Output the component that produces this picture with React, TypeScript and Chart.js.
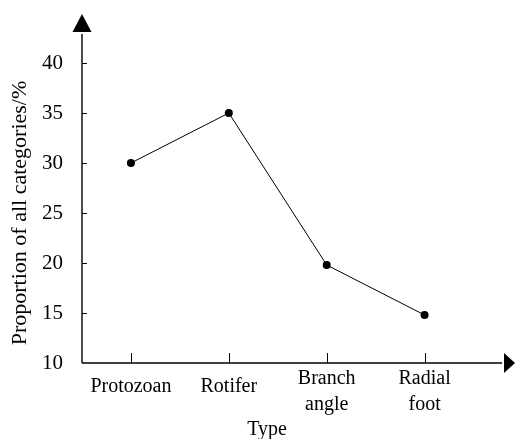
import React, { useEffect, useRef } from "react";
import { Chart, registerables } from "chart.js";

Chart.register(...registerables);

const categories: string[][] = [["Protozoan"], ["Rotifer"], ["Branch", "angle"], ["Radial", "foot"]];
const proportions: number[] = [30, 35, 19.8, 14.8];
const yMin = 10;
const yMax = 40;
const yStep = 5;
const xMin = -0.5;
const xMax = 3.28;
const xTitle = "Type";
const yTitle = "Proportion of all categories/%";

const FONT = "'Liberation Serif', 'Times New Roman', serif";

const arrowAxes = {
  id: "arrowAxes",
  afterDraw(chart: any) {
    const { ctx, chartArea, scales } = chart;
    const xs = scales.x;
    const ys = scales.y;
    const x0 = chartArea.left;
    const y0 = chartArea.bottom;
    const yTop = chartArea.top - 31;
    const yTip = chartArea.top - 49;
    const xEnd = chart.width - 11;
    const xTip = chart.width;
    ctx.save();
    ctx.strokeStyle = "#000";
    ctx.fillStyle = "#000";
    ctx.lineWidth = 1.4;
    // y axis
    ctx.beginPath();
    ctx.moveTo(x0, y0);
    ctx.lineTo(x0, yTop + 2);
    ctx.stroke();
    ctx.beginPath();
    ctx.moveTo(x0, yTip);
    ctx.lineTo(x0 - 9.5, yTop);
    ctx.lineTo(x0 + 9.5, yTop);
    ctx.closePath();
    ctx.fill();
    // x axis
    ctx.beginPath();
    ctx.moveTo(x0, y0);
    ctx.lineTo(xEnd - 2, y0);
    ctx.stroke();
    ctx.beginPath();
    ctx.moveTo(xTip, y0);
    ctx.lineTo(xEnd, y0 - 10);
    ctx.lineTo(xEnd, y0 + 10);
    ctx.closePath();
    ctx.fill();
    // inward ticks
    ctx.lineWidth = 1;
    ys.ticks.forEach((t: any) => {
      if (t.value === yMin) return;
      const py = Math.round(ys.getPixelForValue(t.value)) + 0.5;
      ctx.beginPath();
      ctx.moveTo(x0, py);
      ctx.lineTo(x0 + 5, py);
      ctx.stroke();
    });
    xs.ticks.forEach((t: any) => {
      const px = Math.round(xs.getPixelForValue(t.value)) + 0.5;
      ctx.beginPath();
      ctx.moveTo(px, y0);
      ctx.lineTo(px, y0 - 10);
      ctx.stroke();
    });
    ctx.restore();
  },
};

export default function App() {
  const ref = useRef<HTMLCanvasElement | null>(null);
  useEffect(() => {
    document.body.style.margin = "0";
    if (!ref.current) return;
    const chart = new Chart(ref.current, {
      type: "line",
      data: {
        datasets: [
          {
            data: proportions.map((v, i) => ({ x: i, y: v })),
            borderColor: "#000",
            backgroundColor: "#000",
            borderWidth: 1,
            pointRadius: 4,
            pointBackgroundColor: "#000",
            pointBorderWidth: 0,
            tension: 0,
          },
        ],
      },
      options: {
        animation: false,
        responsive: true,
        maintainAspectRatio: false,
        layout: { padding: { top: 63, right: 63, left: 0, bottom: 0 } },
        plugins: { legend: { display: false }, tooltip: { enabled: false } },
        scales: {
          x: {
            type: "linear",
            min: xMin,
            max: xMax,
            grid: { display: false, drawTicks: false },
            border: { display: false },
            afterBuildTicks(scale: any) {
              scale.ticks = categories.map((_c, i) => ({ value: i }));
            },
            ticks: {
              color: "#000",
              padding: 2,
              maxRotation: 0,
              autoSkip: false,
              callback: (v: any) => categories[Math.round(Number(v))] ?? "",
              font: (c: any) => ({
                family: FONT,
                size: 20,
                lineHeight: (categories[c.index] || []).length > 1 ? 1.33 : 2.13,
              }),
            },
            title: {
              display: true,
              text: xTitle,
              color: "#000",
              font: { family: FONT, size: 20, lineHeight: 0.9 },
              padding: { top: 0, bottom: 0 },
            },
            afterFit(scale: any) {
              scale.height = 76;
            },
          },
          y: {
            type: "linear",
            min: yMin,
            max: yMax,
            grid: { display: false, drawTicks: false },
            border: { display: false },
            ticks: {
              stepSize: yStep,
              color: "#000",
              padding: 19,
              font: { family: FONT, size: 21 },
            },
            title: {
              display: true,
              text: yTitle,
              color: "#000",
              font: { family: FONT, size: 22, lineHeight: 1.2 },
              padding: { top: 7, bottom: 0 },
            },
            afterFit(scale: any) {
              scale.width = 82;
            },
          },
        },
      },
      plugins: [arrowAxes],
    });
    return () => chart.destroy();
  }, []);
  return (
    <div style={{ width: 515, height: 439, position: "relative" }}>
      <canvas ref={ref} />
    </div>
  );
}
